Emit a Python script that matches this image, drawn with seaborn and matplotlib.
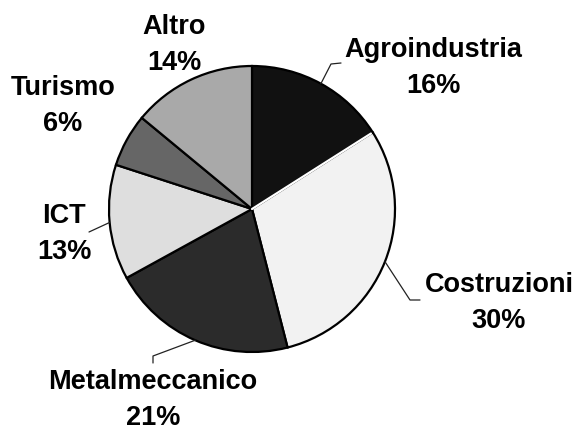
import numpy as np
import matplotlib
matplotlib.use("Agg")
import matplotlib.pyplot as plt
import seaborn as sns

# slices, clockwise from 12 o'clock
sectors = ["Agroindustria", "Costruzioni", "Metalmeccanico", "ICT", "Turismo", "Altro"]
shares = [16, 30, 21, 13, 6, 14]
greys = ["#111111", "#f2f2f2", "#2b2b2b", "#dedede", "#666666", "#a9a9a9"]

W, H = 575, 431
CX, CY, R = 252, 210, 143  # pixel coords, y from top

# label block centres (pixels from top-left)
label_pos = {
    "Agroindustria": (433, 68),
    "Costruzioni": (499, 303),
    "Metalmeccanico": (153, 400),
    "ICT": (64, 234),
    "Turismo": (63, 106),
    "Altro": (174, 45),
}
# leader line elbows (pixels from top-left)
leaders = {
    "Agroindustria": [(331, 65), (341, 64)],
    "Costruzioni": [(410, 301), (420, 301)],
    "Metalmeccanico": [(153, 357), (153, 364)],
    "ICT": [(89, 233)],
}


def fy(y):
    return H - y


sns.set_theme(style="white")
plt.rcParams["font.family"] = ["Liberation Sans", "DejaVu Sans"]

fig = plt.figure(figsize=(W / 100, H / 100), dpi=100)
ax = fig.add_axes([0, 0, 1, 1])

wedges, _ = ax.pie(shares, colors=greys, startangle=90, counterclock=False,
                   center=(CX, fy(CY)), radius=R,
                   wedgeprops=dict(edgecolor="black", linewidth=1.6))

# the Agroindustria / Costruzioni border is white in the original
t = np.deg2rad(wedges[0].theta1)
ax.plot([CX, CX + R * 0.985 * np.cos(t)], [fy(CY), fy(CY) + R * 0.985 * np.sin(t)],
        color="white", lw=1.6, zorder=5)

for w, name, val in zip(wedges, sectors, shares):
    x, y = label_pos[name]
    ax.text(x, fy(y), f"{name}\n{val}%", ha="center", va="center",
            fontsize=19.5, fontweight="bold", linespacing=1.5, color="black")
    if name in leaders:
        mid = np.deg2rad((w.theta1 + w.theta2) / 2)
        xs = [CX + R * np.cos(mid)] + [p[0] for p in leaders[name]]
        ys = [fy(CY) + R * np.sin(mid)] + [fy(p[1]) for p in leaders[name]]
        ax.plot(xs, ys, color="#222222", lw=0.9, zorder=1)

ax.set_xlim(0, W)
ax.set_ylim(0, H)
ax.set_aspect("auto")
ax.axis("off")

fig.savefig("out.png", dpi=100, facecolor="white")
